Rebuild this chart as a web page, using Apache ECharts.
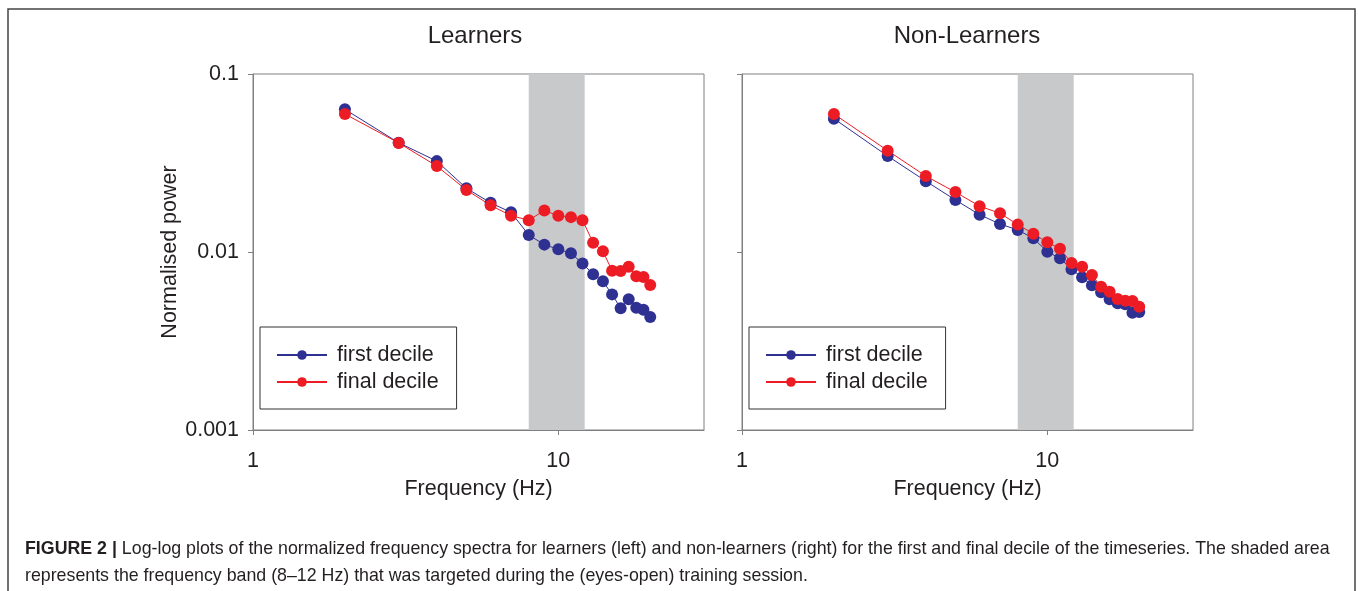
<!DOCTYPE html>
<html>
<head>
<meta charset="utf-8">
<script src="https://cdn.jsdelivr.net/npm/echarts@6/dist/echarts.min.js"></script>
<style>
html,body{margin:0;padding:0;background:#fff;}
#chart{width:1358px;height:591px;}
</style>
</head>
<body>
<div id="chart"></div>
<script>
// ---- data ----
const frequencies = [2,3,4,5,6,7,8,9,10,11,12,13,14,15,16,17,18,19,20];
const learnersFirst = [0.0633,0.0411,0.0324,0.0228,0.0189,0.0167,0.01246,0.0110,0.01035,0.00984,0.00863,0.00749,0.00684,0.00578,0.00483,0.00542,0.00486,0.00474,0.00431];
const learnersFinal = [0.0596,0.0410,0.0304,0.0223,0.0183,0.0160,0.0151,0.0171,0.0160,0.0157,0.0151,0.01128,0.01009,0.00785,0.00781,0.00826,0.00730,0.00724,0.00653];
const nonLearnersFirst = [0.0561,0.0346,0.0250,0.0196,0.0162,0.01436,0.01330,0.01194,0.01004,0.00921,0.00800,0.00721,0.00650,0.00594,0.00542,0.00515,0.00508,0.00456,0.00460];
const nonLearnersFinal = [0.0596,0.0371,0.0267,0.0217,0.0181,0.0165,0.01425,0.01267,0.01133,0.01044,0.00867,0.00826,0.00743,0.00638,0.00598,0.00545,0.00533,0.00531,0.00493];
const panelTitles = ['Learners', 'Non-Learners'];
const seriesNames = ['first decile', 'final decile'];
const xTicks = [1, 10];
const yTicks = [0.001, 0.01, 0.1];
const band = [8, 12.2];
const captionBold = 'FIGURE 2 | ';
const captionLine1 = 'Log-log plots of the normalized frequency spectra for learners (left) and non-learners (right) for the first and final decile of the timeseries. The shaded area';
const captionLine2 = 'represents the frequency band (8\u201312 Hz) that was targeted during the (eyes-open) training session.';

const BLUE = '#2E3192', RED = '#ED1C24', TXT = '#231F20', AX = '#808080';
const FONT = '"Liberation Sans", Arial, sans-serif';
const FS = 21.5;
const CFS = 17.8;

function pairs(vals){ return frequencies.map((f,i)=>[f, vals[i]]); }

const grids = [
  {left:253, top:74, width:451, height:356, show:true, borderColor:AX, borderWidth:1},
  {left:742, top:74, width:451, height:356, show:true, borderColor:AX, borderWidth:1}
];

function xAxis(i){
  return {
    type:'log', logBase:10, gridIndex:i, min:1, max:30,
    name:'Frequency (Hz)', nameLocation:'middle', nameGap:48,
    nameTextStyle:{fontFamily:FONT, fontSize:FS, color:TXT},
    axisLine:{show:true, lineStyle:{color:AX, width:1}},
    axisTick:{show:true, length:5, lineStyle:{color:AX}, customValues:xTicks},
    axisLabel:{fontFamily:FONT, fontSize:FS, color:TXT, margin:20, customValues:xTicks,
      formatter:v=>String(Math.round(v))},
    splitLine:{show:false}, minorTick:{show:false}
  };
}
function yAxis(i){
  return {
    type:'log', logBase:10, gridIndex:i, min:0.001, max:0.1,
    name: i===0 ? 'Normalised power' : '', nameLocation:'middle', nameGap:58,
    nameTextStyle:{fontFamily:FONT, fontSize:FS, color:TXT},
    axisLine:{show:true, lineStyle:{color:AX, width:1}},
    axisTick:{show:true, length:5, lineStyle:{color:AX}, customValues:yTicks},
    axisLabel:{show:i===0, fontFamily:FONT, fontSize:FS, color:TXT, margin:14, customValues:yTicks,
      formatter:v=>{ if (v>=0.09) return '0.1'; if (v>=0.009) return '0.01'; return '0.001'; }},
    splitLine:{show:false}, minorTick:{show:false}
  };
}

function lineSeries(name, vals, i, color, withBand){
  const s = {
    name, type:'line', xAxisIndex:i, yAxisIndex:i, data:pairs(vals),
    symbol:'circle', symbolSize:12, showSymbol:true,
    lineStyle:{color, width:1}, itemStyle:{color},
    emphasis:{disabled:true}, animation:false, z:3
  };
  if (withBand){
    s.markArea = {silent:true, itemStyle:{color:'#C8C9CB'},
      data:[[{xAxis:band[0]},{xAxis:band[1]}]]};
  }
  return s;
}

function legend(i){
  return {
    left: i===0 ? 260 : 749, top:327, orient:'vertical',
    backgroundColor:'#fff', borderColor:'#333', borderWidth:1,
    padding:[17, 18, 16, 16], itemGap:5, itemWidth:50, itemHeight:12,
    textStyle:{fontFamily:FONT, fontSize:FS, color:TXT, padding:[0,0,0,5]},
    data:seriesNames, selectedMode:false
  };
}

function titleText(t, cx){
  return {type:'text', x:cx, y:36, style:{text:t, fontFamily:FONT, fontSize:24, fill:TXT, align:'center', verticalAlign:'middle'}, silent:true};
}

const option = {
  backgroundColor:'#fff',
  animation:false,
  grid:grids,
  xAxis:[xAxis(0), xAxis(1)],
  yAxis:[yAxis(0), yAxis(1)],
  legend:[legend(0), legend(1)],
  series:[
    lineSeries(seriesNames[0], learnersFirst, 0, BLUE, true),
    lineSeries(seriesNames[1], learnersFinal, 0, RED, false),
    lineSeries(seriesNames[0], nonLearnersFirst, 1, BLUE, true),
    lineSeries(seriesNames[1], nonLearnersFinal, 1, RED, false)
  ],
  graphic:[
    {type:'rect', shape:{x:8, y:9, width:1347, height:620}, style:{fill:null, stroke:'#444', lineWidth:1.5}, silent:true, z:-1},
    titleText(panelTitles[0], 475),
    titleText(panelTitles[1], 967),
    {type:'text', x:25, y:549, style:{
      text:'{b|' + captionBold + '}{r|' + captionLine1 + '}', verticalAlign:'middle',
      rich:{b:{fontFamily:FONT, fontSize:CFS, fontWeight:'bold', fill:TXT}, r:{fontFamily:FONT, fontSize:CFS, fill:TXT}}
    }, silent:true},
    {type:'text', x:25, y:576, style:{text:captionLine2, fontFamily:FONT, fontSize:CFS, fill:TXT, verticalAlign:'middle'}, silent:true}
  ]
};

const chart = echarts.init(document.getElementById('chart'), null, {renderer:'canvas'});
chart.setOption(option);
</script>
</body>
</html>
